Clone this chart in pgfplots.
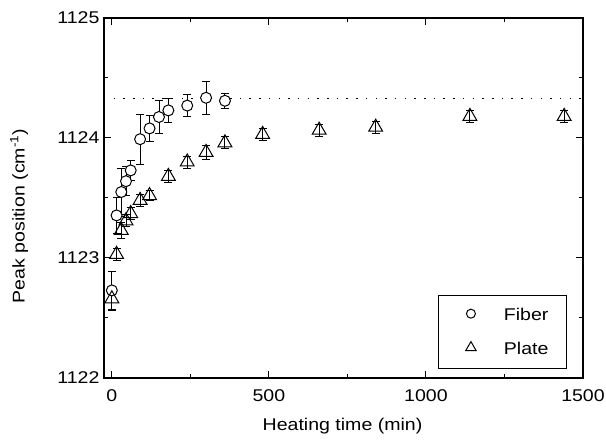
\documentclass[border=0pt]{standalone}
\usepackage{fontspec}
\setmainfont{Liberation Sans}[FakeStretch=1.15]
\usepackage{pgfplots}
\pgfplotsset{compat=1.18}
\newcommand{\lblfont}{\fontsize{17}{20}\selectfont}

\pgfplotstableread{
x    y         e
0    1122.73   0.16
15   1123.355  0.15
30   1123.55   0.20
45   1123.64   0.12
60   1123.73   0.08
90   1123.99   0.21
120  1124.08   0.11
150  1124.175  0.14
180  1124.23   0.10
240  1124.27   0.09
300  1124.335  0.135
360  1124.31   0.06
}\fiber

\pgfplotstableread{
x    y         e
0    1122.66   0.10
15   1123.03   0.05
30   1123.23   0.07
45   1123.31   0.05
60   1123.37   0.05
90   1123.48   0.05
120  1123.52   0.04
180  1123.68   0.05
240  1123.80   0.05
300  1123.88   0.06
360  1123.96   0.05
480  1124.03   0.05
660  1124.065  0.05
840  1124.09   0.05
1140 1124.18   0.05
1440 1124.18   0.05
}\plate

\begin{document}
\begin{tikzpicture}
\useasboundingbox (-104pt,-68pt) rectangle (502pt,378pt);
\begin{axis}[
  scale only axis,
  width=479pt, height=360pt,
  xmin=-25, xmax=1500, ymin=1122, ymax=1125,
  xtick={0,500,1000,1500}, minor xtick={250,750,1250},
  ytick={1122,1123,1124,1125}, minor ytick={1122.5,1123.5,1124.5},
  tick align=inside, xtick pos=both, ytick pos=both,
  major tick length=7pt, minor tick length=4pt,
  tick style={line width=1pt, black},
  axis line style={line width=1.3pt},
  /pgf/number format/assume math mode=true,
  /pgf/number format/set thousands separator={},
  xticklabel style={font=\lblfont, yshift=-8pt},
  yticklabel style={font=\lblfont, xshift=-1pt},
  xlabel={Heating time (min)},
  ylabel={Peak position (cm\textsuperscript{-1})},
  xlabel style={font=\lblfont, at={(axis description cs:0.498,-0.133)}, anchor=center},
  ylabel style={font=\lblfont, at={(axis description cs:-0.177,0.45)}, anchor=center},
  legend cell align=left,
  legend image code/.code={%
    \path[draw=none] (-14pt,0pt) -- (22pt,0pt);
    \draw[#1] plot coordinates {(0pt,1.5pt)};},
  legend style={at={(axis description cs:0.9666,0.025)}, anchor=south east,
    draw=black, line width=1pt, inner xsep=18pt, inner ysep=12.5pt,
    row sep=19.5pt, column sep=11pt,
    nodes={inner sep=0pt, font=\lblfont}},
]

\addplot[black, line width=1.3pt, dash pattern=on 1.5pt off 8.2pt, forget plot]
  coordinates {(-25,1124.33) (1500,1124.33)};

\addplot[only marks, mark=*, mark size=5.5pt,
  mark options={fill=white, draw=black, line width=1pt},
  legend image post style={mark size=4.5pt},
  error bars/.cd, y dir=both, y explicit,
  error bar style={line width=0.9pt, black},
  error mark options={rotate=90, mark size=4pt, line width=0.9pt, black}]
  table[x=x, y=y, y error=e] {\fiber};
\addlegendentry{Fiber}

\addplot[only marks, mark=triangle, mark size=8pt,
  mark options={draw=black, line width=1pt},
  legend image post style={mark size=6pt},
  error bars/.cd, y dir=both, y explicit,
  error bar style={line width=0.9pt, black},
  error mark options={rotate=90, mark size=4pt, line width=0.9pt, black}]
  table[x=x, y=y, y error=e] {\plate};
\addlegendentry{Plate}

\end{axis}
\end{tikzpicture}
\end{document}
